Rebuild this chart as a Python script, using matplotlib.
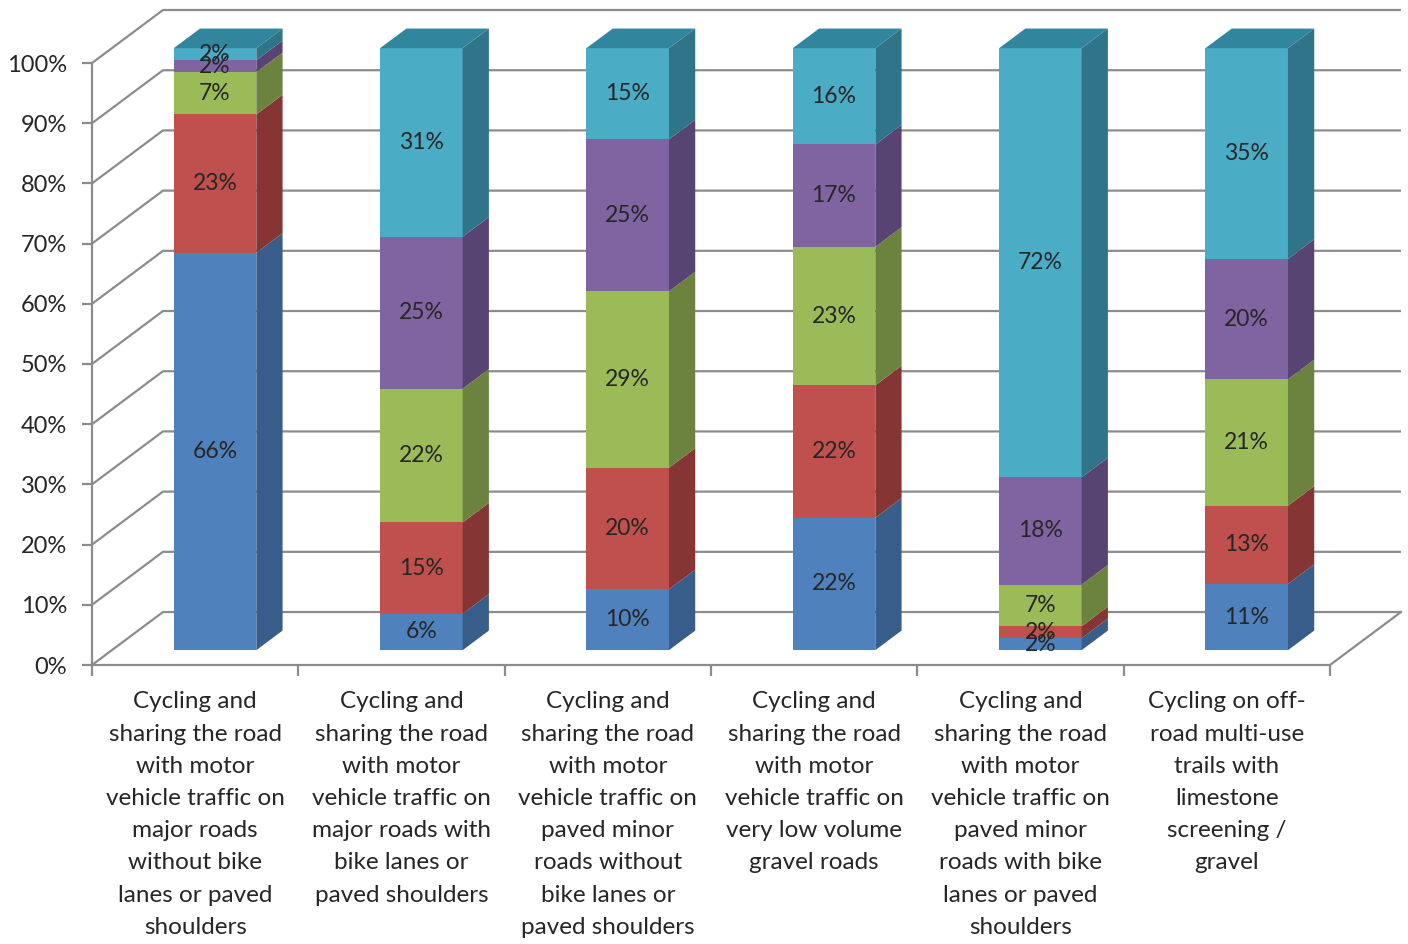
import matplotlib
matplotlib.use("Agg")
import matplotlib.pyplot as plt
from matplotlib.patches import Polygon
import numpy as np

plt.rcParams['font.family'] = ['Lato', 'DejaVu Sans']

# categories (x axis) and the five stacked series, in percent
categories = [
    "Cycling and\nsharing the road\nwith motor\nvehicle traffic on\nmajor roads\nwithout bike\nlanes or paved\nshoulders",
    "Cycling and\nsharing the road\nwith motor\nvehicle traffic on\nmajor roads with\nbike lanes or\npaved shoulders",
    "Cycling and\nsharing the road\nwith motor\nvehicle traffic on\npaved minor\nroads without\nbike lanes or\npaved shoulders",
    "Cycling and\nsharing the road\nwith motor\nvehicle traffic on\nvery low volume\ngravel roads",
    "Cycling and\nsharing the road\nwith motor\nvehicle traffic on\npaved minor\nroads with bike\nlanes or paved\nshoulders",
    "Cycling on off-\nroad multi-use\ntrails with\nlimestone\nscreening /\ngravel",
]
blue = [66, 6, 10, 22, 2, 11]
red = [23, 15, 20, 22, 2, 13]
green = [7, 22, 29, 23, 7, 21]
purple = [2, 25, 25, 17, 18, 20]
cyan = [2, 31, 15, 16, 72, 35]
yticks = list(range(0, 101, 10))

series = [blue, red, green, purple, cyan]
front_colors = ['#4F81BD', '#C0504D', '#9BBB59', '#8064A2', '#4BACC6']
side_colors = ['#385D8A', '#853533', '#6B833F', '#584472', '#2F7488']
top_color = '#31859C'
grid_color = '#8C8C8C'

# fake 3D: oblique depth offset of the chart box (data units)
DX, DY = 0.344, 8.8
D1, D2 = 0.28, 0.65   # front / back depth of the bars
W = 0.40              # bar width

fig = plt.figure(figsize=(14.08, 9.44), dpi=100)
ax = fig.add_axes([92 / 1408, (944 - 665) / 944, 1238 / 1408, 602 / 944])
ax.set_xlim(0, 6)
ax.set_ylim(0, 100)

# back wall + side wall gridlines
for p in yticks:
    ax.plot([0, DX, 6 + DX], [p, p + DY, p + DY], color=grid_color, lw=1.6,
            clip_on=False, zorder=1, solid_capstyle='butt')
# floor right edge
ax.plot([6, 6 + DX], [0, DY], color=grid_color, lw=1.6, clip_on=False, zorder=1)

data = np.array(series, dtype=float)
data = data / data.sum(axis=0) * 100  # 100% stacked
for i in range(len(categories)):
    x0 = i + 0.5 - W / 2
    x1 = i + 0.5 + W / 2
    bottom = 0.0
    for k in range(len(series)):
        top = bottom + data[k, i]
        front = [(x0 + D1 * DX, bottom + D1 * DY), (x1 + D1 * DX, bottom + D1 * DY),
                 (x1 + D1 * DX, top + D1 * DY), (x0 + D1 * DX, top + D1 * DY)]
        side = [(x1 + D1 * DX, bottom + D1 * DY), (x1 + D2 * DX, bottom + D2 * DY),
                (x1 + D2 * DX, top + D2 * DY), (x1 + D1 * DX, top + D1 * DY)]
        ax.add_patch(Polygon(front, closed=True, fc=front_colors[k], ec='none',
                             clip_on=False, zorder=3))
        ax.add_patch(Polygon(side, closed=True, fc=side_colors[k], ec='none',
                             clip_on=False, zorder=3))
        if k == len(series) - 1:
            lid = [(x0 + D1 * DX, top + D1 * DY), (x1 + D1 * DX, top + D1 * DY),
                   (x1 + D2 * DX, top + D2 * DY), (x0 + D2 * DX, top + D2 * DY)]
            ax.add_patch(Polygon(lid, closed=True, fc=top_color, ec='none',
                                 clip_on=False, zorder=3))
        ax.text(i + 0.5 + D1 * DX, (bottom + top) / 2 + D1 * DY,
                "{:d}%".format(series[k][i]), ha='center', va='center',
                fontsize=16.5, color='#262626', zorder=5)
        bottom = top

for s in ['top', 'right']:
    ax.spines[s].set_visible(False)
for s in ['left', 'bottom']:
    ax.spines[s].set_color(grid_color)
    ax.spines[s].set_linewidth(1.6)
    ax.spines[s].set_zorder(2)

ax.set_yticks(yticks)
ax.set_yticklabels(["{}%".format(p) for p in yticks])
ax.set_xticks(range(7))
ax.set_xticklabels([''] * 7)
ax.set_xticks([i + 0.5 for i in range(6)], minor=True)
ax.set_xticklabels(categories, minor=True, fontsize=17.5, color='#262626',
                   linespacing=1.66)
ax.tick_params(axis='y', length=7, width=1.6, color=grid_color, pad=11,
               labelsize=17, labelcolor='#262626')
ax.tick_params(axis='x', which='major', length=8, width=1.6, color=grid_color)
ax.tick_params(axis='x', which='minor', length=0, pad=19)
ax.set_facecolor('none')

fig.savefig("out.png", dpi=100)
